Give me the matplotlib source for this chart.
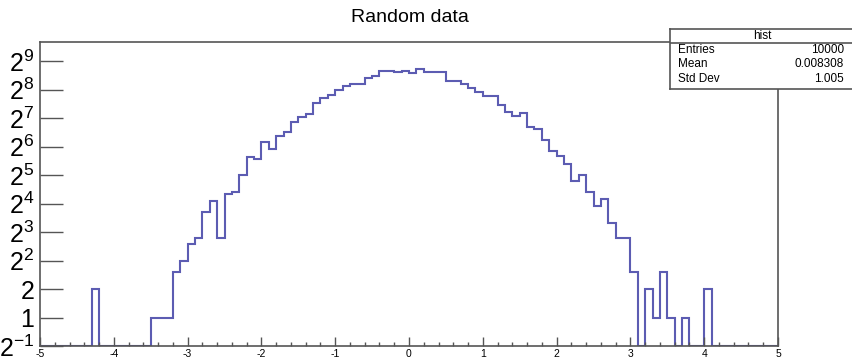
import numpy as np
import matplotlib
matplotlib.use("Agg")
import matplotlib.pyplot as plt
from matplotlib.ticker import FixedLocator, NullLocator, MultipleLocator

plt.rcParams['font.family'] = ['Liberation Sans', 'DejaVu Sans']
plt.rcParams['mathtext.fontset'] = 'custom'
plt.rcParams['mathtext.rm'] = 'Liberation Sans'
plt.rcParams['mathtext.it'] = 'Liberation Sans'

# histogram bins: 100 bins from -5 to 5
x_lo, x_hi, n_bins = -5.0, 5.0, 100
counts = [0, 0, 0, 0, 0, 0, 0, 2, 0, 0,
          0, 0, 0, 0, 0, 1, 1, 1, 3, 4,
          6, 7, 13, 17, 7, 20, 21, 32, 50, 47,
          71, 60, 83, 91, 117, 131, 140, 183, 210, 225,
          253, 280, 294, 294, 343, 360, 407, 407, 393, 407,
          383, 427, 396, 396, 396, 315, 315, 294, 265, 244,
          221, 221, 174, 148, 134, 144, 102, 98, 75, 58,
          51, 42, 28, 32, 21, 15, 18, 10, 7, 7,
          3, 0, 2, 1, 3, 1, 0, 1, 0, 0,
          2, 0, 0, 0, 0, 0, 0, 0, 0, 0]

y_exps = [-1, 0, 1, 2, 3, 4, 5, 6, 7, 8, 9]
y_labels = [r'$2^{-1}$', '1', '2', r'$2^{2}$', r'$2^{3}$', r'$2^{4}$',
            r'$2^{5}$', r'$2^{6}$', r'$2^{7}$', r'$2^{8}$', r'$2^{9}$']
x_ticks = [-5, -4, -3, -2, -1, 0, 1, 2, 3, 4, 5]

stat_names = ['Entries', 'Mean', 'Std Dev']
stat_values = ['10000', '0.008308', '1.005']

ymin, ymax = 0.5, 815
frame_col = '#555555'
line_col = '#5c5cb2'

fig = plt.figure(figsize=(8.52, 3.59), dpi=100)
ax = fig.add_axes([40/852, 1-346/359, 738/852, 304/359])

edges = np.linspace(x_lo, x_hi, n_bins + 1)
vals = np.array(counts, dtype=float)
vals[vals <= 0] = ymin  # empty bins drop to the axis floor on log scale
ax.stairs(vals, edges, baseline=ymin, color=line_col, lw=1.5)

ax.set_yscale('log', base=2)
ax.set_xlim(x_lo, x_hi)
ax.set_ylim(ymin, ymax)

ax.yaxis.set_major_locator(FixedLocator([2.0**e for e in y_exps]))
ax.yaxis.set_minor_locator(NullLocator())
ax.set_yticklabels(y_labels)
ax.set_xticks(x_ticks)
ax.set_xticklabels([str(t) for t in x_ticks])
ax.xaxis.set_minor_locator(MultipleLocator(0.2))

ax.tick_params(axis='y', which='major', direction='in', length=16.5, width=1.0,
               color=frame_col, labelsize=18, pad=4)
ax.tick_params(axis='x', which='major', direction='in', length=6.3, width=1.0,
               color=frame_col, labelsize=7.5, pad=2)
ax.tick_params(axis='x', which='minor', direction='in', length=3, width=1.0,
               color=frame_col)
for s in ax.spines.values():
    s.set_color(frame_col)
    s.set_linewidth(1.2)

fig.text(410/852, 1-18/359, 'Random data', ha='center', va='center', fontsize=14)

# stats box
sb = fig.add_axes([670/852, 1-88.5/359, 184/852, 59.5/359])
sb.set_xlim(0, 1)
sb.set_ylim(0, 1)
sb.set_xticks([])
sb.set_yticks([])
for s in sb.spines.values():
    s.set_color(frame_col)
    s.set_linewidth(1.2)
sb.axhline(1 - 13.7/59.5, color=frame_col, lw=1.2)
sb.text(0.5, 1 - 6.5/59.5, 'hist', ha='center', va='center', fontsize=8.5)
row_y = [49.5, 64, 79.5]
for name, val, ry in zip(stat_names, stat_values, row_y):
    yy = 1 - (ry - 29)/59.5
    sb.text(8/184, yy, name, ha='left', va='center', fontsize=8.5)
    sb.text(174/184, yy, val, ha='right', va='center', fontsize=8.5)

fig.savefig('out.png', dpi=100)
